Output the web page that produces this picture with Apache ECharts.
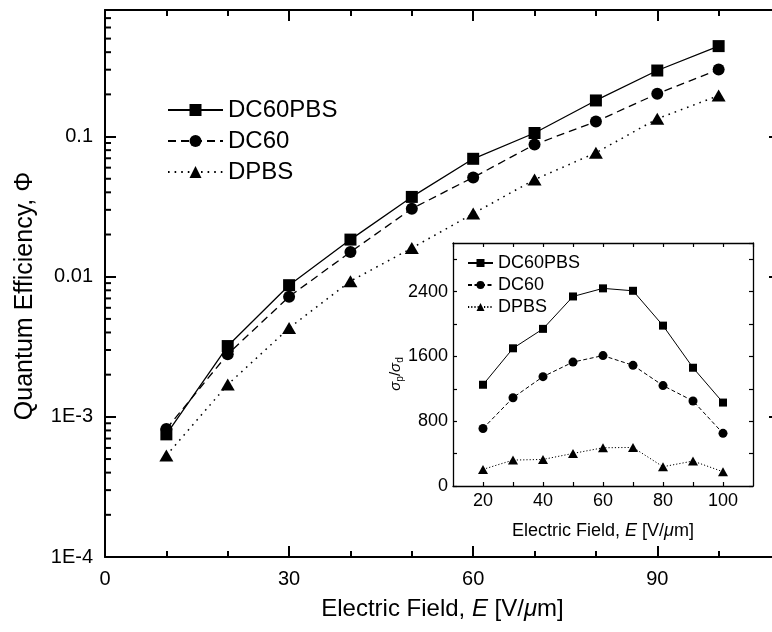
<!DOCTYPE html>
<html>
<head>
<meta charset="utf-8">
<script src="https://cdn.jsdelivr.net/npm/echarts@6/dist/echarts.min.js"></script>
<style>
  html, body { margin: 0; padding: 0; background: #fff; }
  #chart { width: 772px; height: 632px; }
</style>
</head>
<body>
<div id="chart"></div>
<script>
const FONT = '"Liberation Sans", Arial, sans-serif';

// Quantum efficiency vs. electric field (main panel)
const fieldMain = [10, 20, 30, 40, 50, 60, 70, 80, 90, 100];
const qeDC60PBS = [0.00075, 0.0032, 0.0087, 0.0184, 0.0371, 0.0694, 0.106, 0.181, 0.296, 0.442];
const qeDC60    = [0.00082, 0.0028, 0.0072, 0.0150, 0.0306, 0.0511, 0.0877, 0.128, 0.202, 0.301];
const qeDPBS    = [0.00053, 0.0017, 0.0043, 0.0093, 0.0160, 0.0282, 0.0493, 0.0766, 0.134, 0.196];

// Photo / dark conductivity ratio vs. electric field (inset)
const fieldInset   = [20, 30, 40, 50, 60, 70, 80, 90, 100];
const ratioDC60PBS = [1250, 1700, 1940, 2340, 2440, 2410, 1980, 1460, 1030];
const ratioDC60    = [710, 1090, 1350, 1530, 1610, 1490, 1240, 1050, 650];
const ratioDPBS    = [205, 320, 328, 402, 472, 476, 238, 308, 176];

const seriesNames = ['DC60PBS', 'DC60', 'DPBS'];
const insetSuffix = ' (ratio)';

// Tick labels
const mainXTickLabels  = ['0', '30', '60', '90'];
const mainYTickValues  = [1e-4, 1e-3, 0.01, 0.1];
const mainYTickLabels  = ['1E-4', '1E-3', '0.01', '0.1'];
const insetXTickLabels = ['20', '40', '60', '80', '100'];
const insetYTickLabels = ['0', '800', '1600', '2400'];

// Axis ranges
const MAIN_X = [0, 110];
const MAIN_Y = [1e-4, 0.8];
const INSET_X = [10, 110];
const INSET_Y = [0, 3000];

// Log-axis minor ticks at 2..9 within each decade
const logMinorTicks = [];
mainYTickValues.forEach(function (d) {
  for (let k = 2; k <= 9; k++) {
    const v = d * k;
    if (v < MAIN_Y[1]) logMinorTicks.push([MAIN_X[0], v]);
  }
});

const pairs = (xs, ys) => xs.map((x, i) => [x, ys[i]]);
const black = '#000';

function pickLabel(labels, v) {
  const s = String(v);
  return labels.indexOf(s) >= 0 ? s : '';
}

function logLabel(v) {
  const e = Math.round(Math.log10(v));
  for (let i = 0; i < mainYTickValues.length; i++) {
    if (Math.round(Math.log10(mainYTickValues[i])) === e && Math.abs(Math.log10(v) - e) < 1e-6) {
      return mainYTickLabels[i];
    }
  }
  return '';
}

function mainXAxis(pos) {
  const top = pos === 'top';
  return {
    gridIndex: 0, type: 'value', position: pos,
    min: MAIN_X[0], max: MAIN_X[1], interval: 30,
    axisLine: { show: true, onZero: false, lineStyle: { color: black, width: 2 } },
    axisTick: { show: true, inside: true, length: 11, lineStyle: { color: black, width: 2 } },
    minorTick: { show: true, splitNumber: 3, length: 6, lineStyle: { color: black, width: 2 } },
    splitLine: { show: false },
    axisLabel: {
      show: !top, margin: 12, fontSize: 20, color: black, fontFamily: FONT,
      showMaxLabel: false, formatter: v => pickLabel(mainXTickLabels, v)
    },
    name: top ? '' : 'Electric Field, {i|E} [V/{i|μ}m]',
    nameLocation: 'middle', nameGap: 40, nameMoveOverlap: false,
    nameTextStyle: { fontSize: 24, color: black, fontFamily: FONT, rich: {
      i: { fontStyle: 'italic', fontSize: 24, fontFamily: FONT, color: black } } }
  };
}

function mainYAxis(pos) {
  const right = pos === 'right';
  return {
    gridIndex: 0, type: 'log', logBase: 10, position: pos,
    min: MAIN_Y[0], max: MAIN_Y[1],
    axisLine: { show: true, onZero: false, lineStyle: { color: black, width: 2 } },
    axisTick: { show: true, inside: true, length: 11, lineStyle: { color: black, width: 2 } },
    splitLine: { show: false },
    axisLabel: {
      show: !right, margin: 12, fontSize: 20, color: black, fontFamily: FONT,
      showMaxLabel: false, formatter: v => logLabel(v)
    },
    name: right ? '' : 'Quantum Efficiency, Φ',
    nameLocation: 'middle', nameGap: 67, nameMoveOverlap: false,
    nameTextStyle: { fontSize: 25, color: black, fontFamily: FONT, padding: [0, 25, 0, 0] }
  };
}

function insetXAxis(pos) {
  const top = pos === 'top';
  return {
    gridIndex: 1, type: 'value', position: pos,
    min: INSET_X[0], max: INSET_X[1], interval: 10,
    axisLine: { show: true, onZero: false, lineStyle: { color: black, width: 1.3 } },
    axisTick: { show: true, inside: true, length: 4, lineStyle: { color: black, width: 1.2 } },
    splitLine: { show: false },
    axisLabel: {
      show: !top, margin: 6, fontSize: 18, color: black, fontFamily: FONT,
      showMaxLabel: false, showMinLabel: false,
      formatter: v => pickLabel(insetXTickLabels, v)
    },
    name: top ? '' : 'Electric Field, {i|E} [V/{i|μ}m]',
    nameLocation: 'middle', nameGap: 36, nameMoveOverlap: false,
    nameTextStyle: { fontSize: 18, color: black, fontFamily: FONT, rich: {
      i: { fontStyle: 'italic', fontSize: 18, fontFamily: FONT, color: black } } }
  };
}

function insetYAxis(pos) {
  const right = pos === 'right';
  return {
    gridIndex: 1, type: 'value', position: pos,
    min: INSET_Y[0], max: INSET_Y[1], interval: 400,
    axisLine: { show: true, onZero: false, lineStyle: { color: black, width: 1.3 } },
    axisTick: { show: true, inside: true, length: 4, lineStyle: { color: black, width: 1.2 } },
    splitLine: { show: false },
    axisLabel: {
      show: !right, margin: 5, fontSize: 18, color: black, fontFamily: FONT,
      showMaxLabel: false, formatter: v => pickLabel(insetYTickLabels, v)
    },
    name: right ? '' : '{s|σ}{sub|p}{n|/}{s|σ}{sub|d}',
    nameLocation: 'middle', nameGap: 48, nameMoveOverlap: false,
    nameTextStyle: { color: black, fontFamily: FONT, padding: [0, 19, 0, 0], rich: {
      s: { fontSize: 15, fontStyle: 'italic', fontFamily: FONT, color: black, lineHeight: 18 },
      n: { fontSize: 15, fontFamily: FONT, color: black, lineHeight: 18 },
      sub: { fontSize: 10, fontFamily: FONT, color: black, verticalAlign: 'bottom', lineHeight: 11 }
    } }
  };
}

function lineSeries(name, data, grid, symbol, size, width, type) {
  return {
    type: 'line', name: name, data: data,
    xAxisIndex: grid === 0 ? 0 : 2, yAxisIndex: grid === 0 ? 0 : 2,
    symbol: symbol, symbolSize: size, showSymbol: true,
    lineStyle: { color: black, width: width, type: type },
    itemStyle: { color: black, borderWidth: 0 },
    emphasis: { disabled: true },
    z: 3, animation: false
  };
}

const chart = echarts.init(document.getElementById('chart'), null, { renderer: 'canvas' });

chart.setOption({
  backgroundColor: '#fff',
  animation: false,
  textStyle: { fontFamily: FONT },
  grid: [
    { left: 105, top: 10, width: 675, height: 547, outerBoundsMode: 'none', containLabel: false },
    { left: 453, top: 243, width: 300, height: 243, outerBoundsMode: 'none', containLabel: false }
  ],
  xAxis: [mainXAxis('bottom'), mainXAxis('top'), insetXAxis('bottom'), insetXAxis('top')],
  yAxis: [mainYAxis('left'), mainYAxis('right'), insetYAxis('left'), insetYAxis('right')],
  legend: [
    {
      data: seriesNames, orient: 'vertical', left: 167, top: 98, padding: 0,
      itemWidth: 55, itemHeight: 15, itemGap: 7, selectedMode: false,
      textStyle: { fontSize: 24, color: black, fontFamily: FONT }
    },
    {
      data: seriesNames.map(n => n + insetSuffix), orient: 'vertical', left: 467, top: 254, padding: 0,
      itemWidth: 25, itemHeight: 10, itemGap: 4, selectedMode: false,
      formatter: n => n.replace(insetSuffix, ''),
      textStyle: { fontSize: 18, color: black, fontFamily: FONT }
    }
  ],
  series: [
    lineSeries('DC60PBS', pairs(fieldMain, qeDC60PBS), 0, 'rect', 12, 1.3, 'solid'),
    lineSeries('DC60', pairs(fieldMain, qeDC60), 0, 'circle', 12, 1.3, [8, 5]),
    lineSeries('DPBS', pairs(fieldMain, qeDPBS), 0, 'triangle', [14, 12], 1.5, [1.6, 5]),

    lineSeries('DC60PBS' + insetSuffix, pairs(fieldInset, ratioDC60PBS), 1, 'rect', 8, 1, 'solid'),
    lineSeries('DC60' + insetSuffix, pairs(fieldInset, ratioDC60), 1, 'circle', 9, 1, [4, 2.5]),
    lineSeries('DPBS' + insetSuffix, pairs(fieldInset, ratioDPBS), 1, 'triangle', [10, 9], 1, [1.2, 2]),

    {
      // short inward ticks at 2..9 of every decade on both vertical edges
      type: 'custom', xAxisIndex: 0, yAxisIndex: 0,
      data: logMinorTicks, clip: false, silent: true, z: 4,
      renderItem: function (params, api) {
        const v = api.value(1);
        const l = api.coord([MAIN_X[0], v]);
        const r = api.coord([MAIN_X[1], v]);
        return {
          type: 'group',
          children: [
            { type: 'line', shape: { x1: l[0], y1: l[1], x2: l[0] + 6, y2: l[1] }, style: { stroke: black, lineWidth: 2 } },
            { type: 'line', shape: { x1: r[0], y1: r[1], x2: r[0] - 6, y2: r[1] }, style: { stroke: black, lineWidth: 2 } }
          ]
        };
      }
    }
  ]
});
</script>
</body>
</html>
